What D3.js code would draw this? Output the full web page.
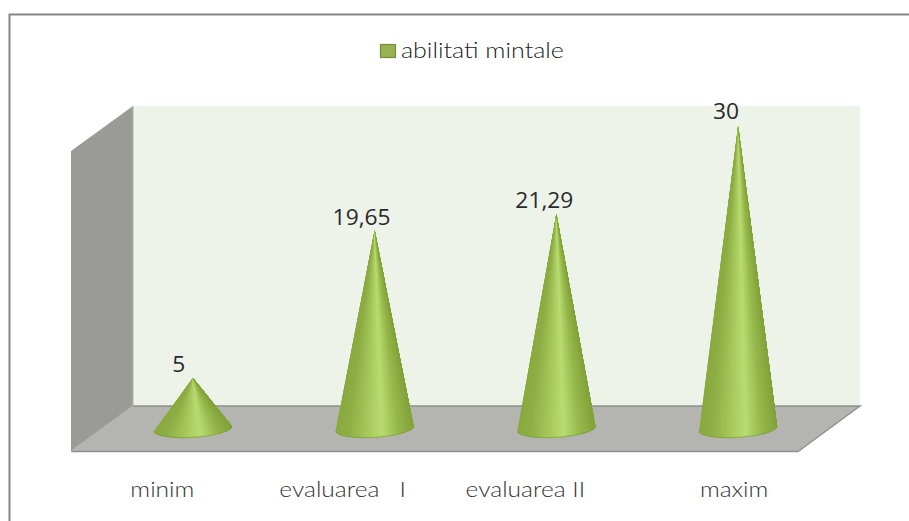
<!DOCTYPE html>
<html><head><meta charset="utf-8">
<script src="https://cdn.jsdelivr.net/npm/d3@7"></script>
<style>html,body{margin:0;padding:0;background:#fff}svg{display:block}</style>
</head><body><div id="chart"></div>
<script>
const categories = ["minim", "evaluarea   I", "evaluarea II", "maxim"];
const values = [5, 19.65, 21.29, 30];
const seriesName = "abilitati mintale";

const W = 909, H = 521;
const svg = d3.select("#chart").append("svg").attr("width", W).attr("height", H);
const defs = svg.append("defs");
defs.append("filter").attr("id","soft").append("feGaussianBlur").attr("stdDeviation",0.5);
defs.append("filter").attr("id","softer").append("feGaussianBlur").attr("stdDeviation",0.3);

const x = d3.scaleBand().domain(d3.range(categories.length)).range([102, 829]);
const y = d3.scaleLinear().domain([0, 30]).range([428.5, 126]);

// frame
svg.append("path").attr("d","M9.5,521V14.5H909").attr("fill","none").attr("stroke","#858585").attr("stroke-width",2);

// 3D box
const g = svg.append("g").attr("filter","url(#softer)");
const poly = pts => "M"+pts.map(p=>p.join(",")).join("L")+"Z";
g.append("path").attr("d",poly([[133,106],[860,106],[860,406],[133,406]])).attr("fill","#eef3ea");
g.append("path").attr("d",poly([[71,151],[133,106],[133,406],[71,451]])).attr("fill","#9a9b96");
g.append("path").attr("d",poly([[71,451],[133,406],[860,406],[798,451]])).attr("fill","#b4b5b1");
g.append("path").attr("d","M133,406H860L798,451.5H71").attr("fill","none").attr("stroke","#8e8f8c").attr("stroke-width",1.4);
g.append("path").attr("d","M71,451L133,406V106").attr("fill","none").attr("stroke","#b0b2ac").attr("stroke-width",1);

// cones: a fan of slices painted left to right, each overlapping everything after it
const RX = 39, RY = 8.8, tilt = -3.6 * Math.PI / 180, N = 70;
const shade = d3.scaleLinear()
  .domain([-1, -0.72, -0.2, 0.18, 0.6, 1])
  .range(["#8aaa40", "#8eae45", "#a6c85c", "#b9dc72", "#96b84c", "#82a23a"]);
const rim = (cx, cy, a) => {
  const px = RX * Math.cos(a), py = RY * Math.sin(a);
  return [cx + px * Math.cos(tilt) - py * Math.sin(tilt), cy + px * Math.sin(tilt) + py * Math.cos(tilt)];
};
const cones = svg.append("g").attr("filter","url(#soft)");
values.forEach((v, i) => {
  const cx = x(i) + x.bandwidth() / 2, cy = y(0), apex = [cx, y(v)];
  const c = cones.append("g");
  c.selectAll("path").data(d3.range(N)).join("path")
    .attr("d", k => poly([apex, ...d3.range(k, N + 1).map(j => rim(cx, cy, Math.PI - j * Math.PI / N))]))
    .attr("fill", k => shade(Math.cos(Math.PI - (k + .5) * Math.PI / N)));
  const arc = d3.range(0, N + 1).map(k => rim(cx, cy, Math.PI - k * Math.PI / N));
  c.append("path").attr("d", "M" + arc.map(p => p.join(",")).join("L"))
    .attr("fill","none").attr("stroke","#7f9d38").attr("stroke-width",1.3).attr("stroke-opacity",.6);
});

// widen real text horizontally, as in the stretched original
const stretch = (sel, k) => sel.each(function () {
  d3.select(this).attr("textLength", this.getComputedTextLength() * k).attr("lengthAdjust","spacingAndGlyphs");
});

// value labels
const labelDx = [-14, -13, -12, -12];
const labelDy = [-6, -5.5, -6, -7];
svg.append("g").selectAll("text").data(values).join("text")
  .attr("x", (d, i) => x(i) + x.bandwidth() / 2 + labelDx[i])
  .attr("y", (d, i) => y(d) + labelDy[i])
  .attr("text-anchor","middle")
  .attr("font-family","'Open Sans'").attr("font-size",21).attr("fill","#2a2a2a")
  .text(d => String(d).replace(".", ","))
  .call(stretch, 1.085);

// category labels
const catDx = [-30.5, -32, -31, -4];
svg.append("g").selectAll("text").data(categories).join("text")
  .attr("x", (d, i) => x(i) + x.bandwidth() / 2 + catDx[i])
  .attr("y", 497)
  .attr("text-anchor","middle")
  .attr("xml:space","preserve").style("white-space","pre")
  .attr("font-family","Lato").attr("font-weight",300).attr("font-size",21).attr("fill","#333")
  .text(d => d)
  .call(stretch, 1.17);

// legend
svg.append("rect").attr("x",380.5).attr("y",44.5).attr("width",15).attr("height",13)
  .attr("fill","#96b34f").attr("stroke","#77893f").attr("stroke-width",1.2);
svg.append("text").attr("x",401).attr("y",58)
  .attr("font-family","Lato").attr("font-weight",300).attr("font-size",21).attr("fill","#222").text(seriesName)
  .call(stretch, 1.19);
</script></body></html>
